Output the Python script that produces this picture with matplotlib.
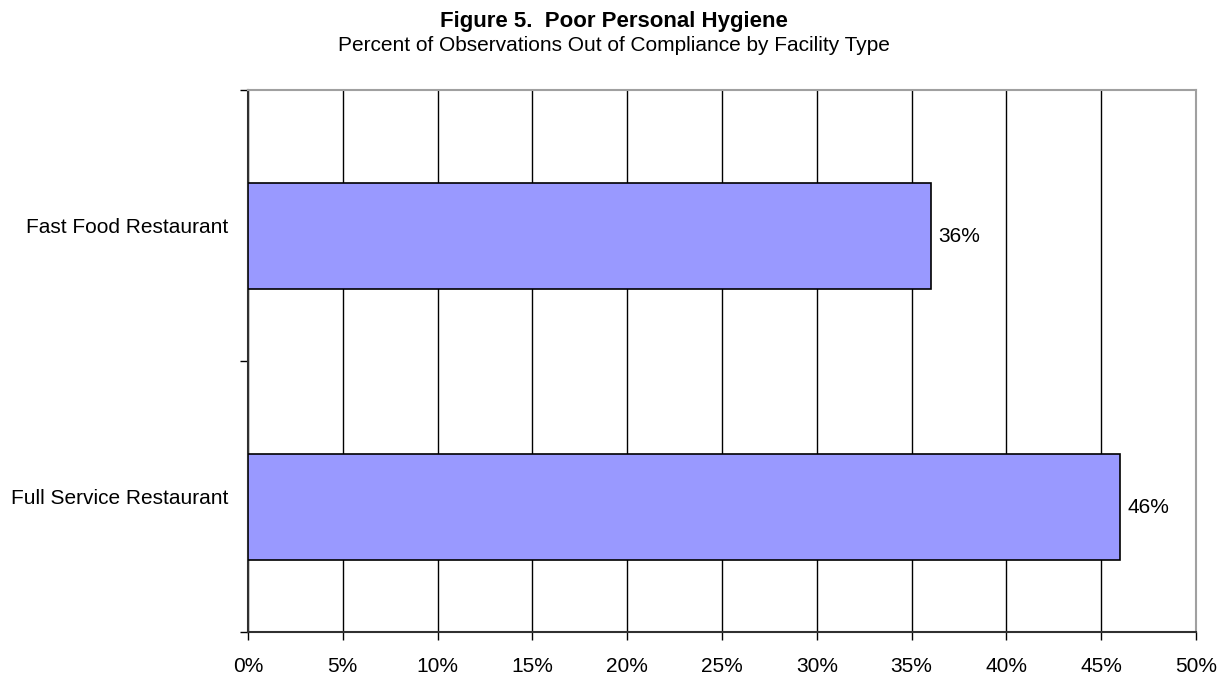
import numpy as np
import matplotlib.pyplot as plt
from matplotlib.ticker import FuncFormatter

plt.rcParams['font.family'] = ['Liberation Sans', 'DejaVu Sans']

# --- Data ---
categories = ['Full Service Restaurant', 'Fast Food Restaurant']
values = [46, 36]
x_ticks = [0, 5, 10, 15, 20, 25, 30, 35, 40, 45, 50]

fig = plt.figure(figsize=(12.27, 6.75), dpi=100)
ax = fig.add_axes([0.2021, 0.0637, 0.7726, 0.803])

y = np.arange(len(categories)) + 0.46
ax.barh(y, values, height=0.39, color='#9999FF', edgecolor='black', linewidth=1.2, zorder=3)

for yi, v in zip(y, values):
    ax.text(v + 0.4, yi, f"{v}%", va='center', ha='left', fontsize=15)

ax.set_xlim(0, 50)
ax.set_ylim(0, len(categories))
ax.set_xticks(x_ticks)
ax.xaxis.set_major_formatter(FuncFormatter(lambda v, p: f"{int(v)}%"))
ax.grid(axis='x', color='black', linewidth=1, zorder=0)

# category boundaries get tick marks, labels sit in between
ax.set_yticks(np.arange(len(categories) + 1))
ax.set_yticklabels([])
ax.set_yticks(np.arange(len(categories)) + 0.5, minor=True)
ax.set_yticklabels(categories, minor=True)
ax.tick_params(axis='y', which='minor', length=0, pad=14, labelsize=15)
ax.tick_params(axis='y', which='major', length=6, width=1)
ax.tick_params(axis='x', length=6, width=1, pad=12, labelsize=15)

for s in ['top', 'right']:
    ax.spines[s].set_color('#A0A0A0')
    ax.spines[s].set_linewidth(1.5)
for s in ['left', 'bottom']:
    ax.spines[s].set_color('#303030')
    ax.spines[s].set_linewidth(1.5)

fig.text(0.5, 0.968, "Figure 5.  Poor Personal Hygiene", ha='center', va='center',
         fontsize=16, fontweight='bold')
fig.text(0.5, 0.932, "Percent of Observations Out of Compliance by Facility Type",
         ha='center', va='center', fontsize=15)

fig.savefig('out.png', dpi=100)
